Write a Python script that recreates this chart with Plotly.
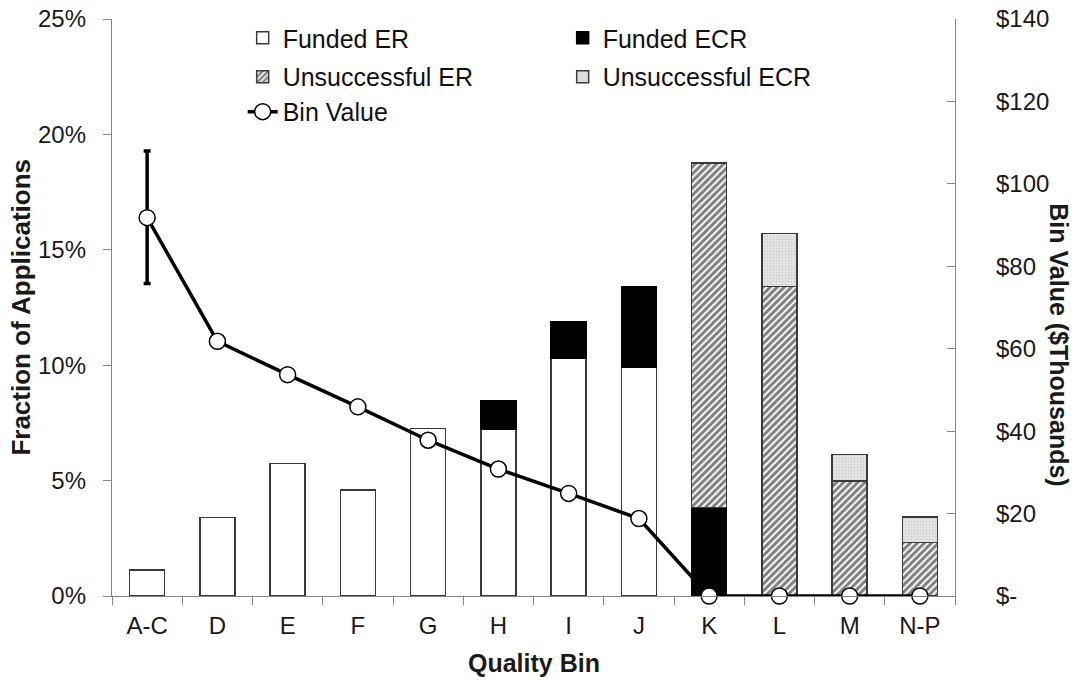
import plotly.graph_objects as go

categories = ["A-C", "D", "E", "F", "G", "H", "I", "J", "K", "L", "M", "N-P"]
funded_er = [0.0113, 0.0341, 0.0574, 0.0459, 0.0726, 0.0722, 0.1029, 0.0993, None, None, None, None]
funded_ecr = [None, None, None, None, None, 0.0123, 0.0159, 0.0349, 0.0384, None, None, None]
unsucc_er = [None, None, None, None, None, None, None, None, 0.1493, 0.1342, 0.0498, 0.0231]
unsucc_ecr = [None, None, None, None, None, None, None, None, None, 0.0228, 0.0115, 0.0112]
bin_value = [91.8, 61.8, 53.7, 45.9, 37.8, 30.8, 24.9, 18.8, 0, 0, 0, 0]
err_cat = ["A-C"]
err_val = [91.8]
err_plus = [16.2]
err_minus = [16.0]

left_ticks = [0, 0.05, 0.10, 0.15, 0.20, 0.25]
right_ticks = [0, 20, 40, 60, 80, 100, 120, 140]
right_text = ["$-", "$20", "$40", "$60", "$80", "$100", "$120", "$140"]

FONT = "Liberation Sans, Arial, sans-serif"
AX = "#868686"
OUT = "#3a3a3a"

fig = go.Figure()
fig.add_trace(go.Bar(x=categories, y=funded_er, name="Funded ER", legend="legend",
                     marker=dict(color="white", line=dict(color=OUT, width=1.5))))
fig.add_trace(go.Bar(x=categories, y=funded_ecr, name="Funded ECR", legend="legend",
                     marker=dict(color="black", line=dict(color="black", width=1.5))))
fig.add_trace(go.Bar(x=categories, y=unsucc_er, name="Unsuccessful ER", legend="legend2",
                     marker=dict(color="white", line=dict(color=OUT, width=1.5),
                                 pattern=dict(shape="/", size=5, solidity=0.6,
                                              fgcolor="#000000", bgcolor="white"))))
fig.add_trace(go.Bar(x=categories, y=unsucc_ecr, name="Unsuccessful ECR", legend="legend2",
                     marker=dict(color="#e0e0e0", line=dict(color=OUT, width=1.5),
                                 pattern=dict(shape=".", size=3, solidity=0.25,
                                              fgcolor="#b0b0b0", bgcolor="#e4e4e4"))))
fig.add_trace(go.Scatter(x=err_cat, y=err_val, yaxis="y2", mode="markers", showlegend=False,
                         marker=dict(size=2, color="white"),
                         error_y=dict(type="data", symmetric=False, array=err_plus,
                                      arrayminus=err_minus, color="black", thickness=3.5, width=3.5),
                         cliponaxis=False))
fig.add_trace(go.Scatter(x=categories, y=bin_value, yaxis="y2", name="Bin Value", legend="legend3",
                         mode="lines+markers", cliponaxis=False,
                         line=dict(color="black", width=3.5),
                         marker=dict(symbol="circle", size=16, color="white",
                                     line=dict(color="black", width=1.5))))

leg_common = dict(orientation="h", x=0.155, xanchor="left", yanchor="middle",
                  entrywidth=275, font=dict(family=FONT, size=25, color="#111111"),
                  bgcolor="rgba(0,0,0,0)", itemwidth=30, traceorder="normal")

fig.update_layout(
    width=1074, height=683,
    margin=dict(l=112, r=119, t=19, b=87, autoexpand=False),
    plot_bgcolor="white", paper_bgcolor="white",
    font=dict(family=FONT, size=24, color="#1a1a1a"),
    barmode="stack", bargap=0.5,
    xaxis=dict(type="category", range=[-0.5, 11.5], showline=True, linecolor=AX, linewidth=1.3,
               ticks="outside", tickson="boundaries", ticklen=8, tickcolor=AX, tickwidth=1.3,
               showgrid=False, tickfont=dict(size=24), ticklabelstandoff=8, automargin=False),
    yaxis=dict(range=[0, 0.25], tickvals=left_ticks, tickformat=".0%", showline=True,
               linecolor=AX, linewidth=1.3, ticks="outside", ticklen=8, tickcolor=AX, tickwidth=1.3,
               showgrid=False, zeroline=False, tickfont=dict(size=24), ticklabelstandoff=12,
               automargin=False, ticklabeloverflow="allow"),
    yaxis2=dict(overlaying="y", side="right", range=[0, 140], tickvals=right_ticks,
                ticktext=right_text, showline=True, linecolor=AX, linewidth=1.3,
                ticks="inside", ticklen=8, tickcolor=AX, tickwidth=1.3,
                showgrid=False, zeroline=False, tickfont=dict(size=24), ticklabelstandoff=35,
                automargin=False, ticklabeloverflow="allow"),
    legend=dict(y=0.967, **leg_common),
    legend2=dict(y=0.8995, **leg_common),
    legend3=dict(y=0.839, **leg_common),
    annotations=[
        dict(text="<b>Fraction of Applications</b>", textangle=-90, xref="paper", yref="paper",
             x=-0.109, y=0.5, xanchor="center", yanchor="middle", showarrow=False,
             font=dict(family=FONT, size=26, color="#1a1a1a")),
        dict(text="<b>Bin Value ($Thousands)</b>", textangle=90, xref="paper", yref="paper",
             x=1.123, y=0.435, xanchor="center", yanchor="middle", showarrow=False,
             font=dict(family=FONT, size=25, color="#1a1a1a")),
        dict(text="<b>Quality Bin</b>", xref="paper", yref="paper",
             x=0.5, y=-0.116, xanchor="center", yanchor="middle", showarrow=False,
             font=dict(family=FONT, size=25, color="#1a1a1a")),
    ],
)

fig.write_html("out.html", config={"displayModeBar": False},
               post_script="document.body.style.margin='0px';document.body.style.overflow='hidden';")
